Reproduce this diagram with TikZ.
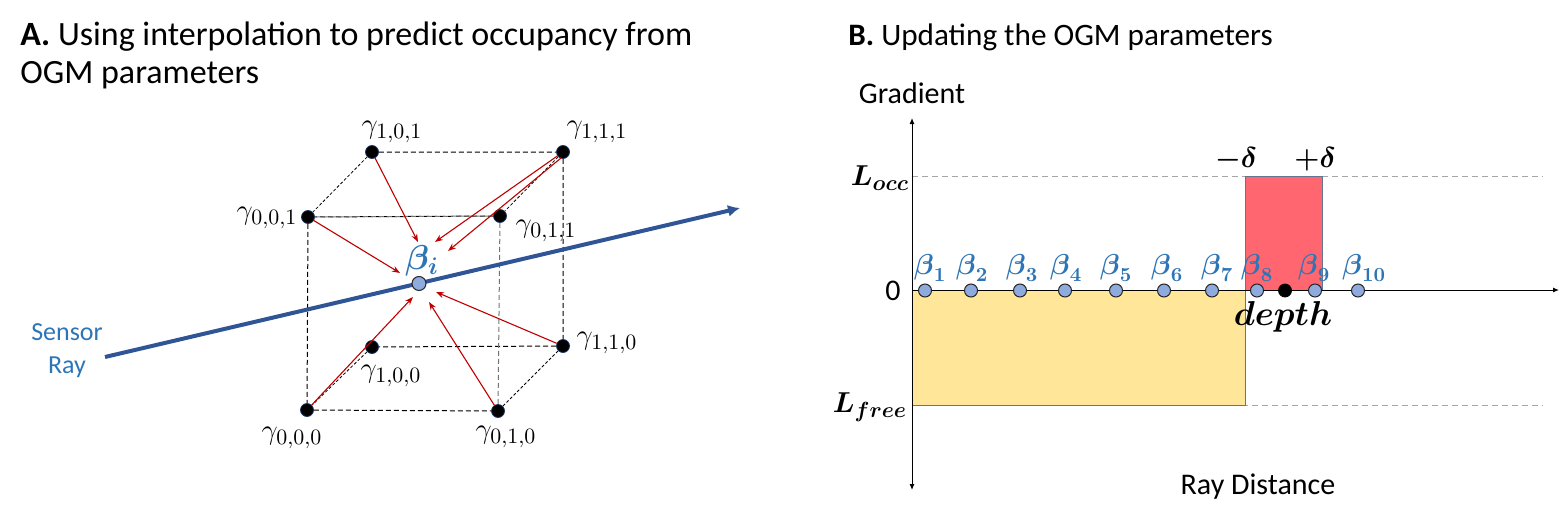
\documentclass[tikz,border=0pt]{standalone}
\usepackage{amsmath}
\usepackage{fontspec}
\setmainfont{Carlito}
\usetikzlibrary{arrows.meta,positioning}
\definecolor{raybl}{HTML}{2F5597}
\definecolor{labbl}{HTML}{2E75B6}
\definecolor{dotbl}{HTML}{8FAADC}
\definecolor{arred}{HTML}{C00000}
\definecolor{freeyl}{HTML}{FFE699}
\definecolor{occrd}{HTML}{FF6670}
\definecolor{edgebl}{HTML}{1F3864}
\tikzset{
  vtx/.style={circle,fill=black,draw=edgebl,line width=0.4pt,inner sep=0pt,minimum size=6.5pt},
  bdot/.style={circle,fill=dotbl,draw=black!85,line width=0.5pt,inner sep=0pt,minimum size=6.5pt},
  glab/.style={font=\fontsize{15.5}{17}\selectfont,inner sep=0pt},
  blab/.style={text=labbl,font=\fontsize{14}{16}\selectfont,inner sep=0pt},
  cube/.style={line width=0.5pt,dash pattern=on 2.5pt off 1.5pt},
  toward/.style={arred,line width=0.55pt,-{Stealth[length=4pt,width=3pt]}},
  level/.style={black!35,line width=0.5pt,dash pattern=on 3pt off 2pt},
  ttl/.style={anchor=base west,inner sep=0pt,font=\fontsize{17}{19}\selectfont},
}
\begin{document}
\begin{tikzpicture}[x=0.5pt,y=-0.5pt,font=\fontsize{15}{18}\selectfont]
    \useasboundingbox (0,0) rectangle (1568,514);
    % A: interpolation inside one voxel
    \node[ttl] (ttlA) at (20,46) {\textbf{A.} Using interpolation to predict occupancy from};
    \node[ttl] (ttlAb) at (20,83) {OGM parameters};
    \node[vtx] (g101) at (372,152) {};
    \node[vtx] (g111) at (563,152) {};
    \node[vtx] (g001) at (308,217) {};
    \node[vtx] (g011) at (500,216) {};
    \node[vtx] (g100) at (372,347) {};
    \node[vtx] (g110) at (563,346) {};
    \node[vtx] (g000) at (307,410) {};
    \node[vtx] (g010) at (498,411) {};
    \draw[cube] (g101) -- (g111) -- (g110) -- (g100) -- cycle;
    \draw[cube] (g011) -- (g001) -- (g000) -- (g010);
    \draw[cube,black!55] (g001) -- (g011) -- (g010);
    \draw[cube,dash pattern=on 1.5pt off 1pt,line width=0.4pt] (g101) -- (g001) (g111) -- (g011) (g110) -- (g010) (g100) -- (g000);
    \node[glab] (l101) at (392,132) {$\gamma_{1,0,1}$};
    \node[glab] (l111) at (597,132) {$\gamma_{1,1,1}$};
    \node[glab] (l001) at (267,218) {$\gamma_{0,0,1}$};
    \node[glab] (l011) at (546,231) {$\gamma_{0,1,1}$};
    \node[glab] (l100) at (391,376) {$\gamma_{1,0,0}$};
    \node[glab] (l110) at (607,343) {$\gamma_{1,1,0}$};
    \node[glab] (l000) at (292,438) {$\gamma_{0,0,0}$};
    \node[glab] (l010) at (506,437) {$\gamma_{0,1,0}$};
    % sensor ray
    \coordinate (rs) at (105,357);
    \coordinate (re) at (740,208);
    \draw[raybl,line width=2pt,-{Latex[length=6pt,width=6pt]}] (rs) -- (re);
    \node[text=labbl,align=center,font=\fontsize{13}{16.5}\selectfont] (sens) at (67,351) {Sensor\\Ray};
    \node[bdot,minimum size=7pt] (bi) at (419,283.5) {};
    \node[blab,font=\fontsize{17}{19}\selectfont] (lbi) at (422,261) {$\boldsymbol{\beta_i}$};
    % weights pulled into beta_i
    \coordinate (e1) at (418,242);
    \coordinate (e2) at (435,242);
    \coordinate (e3) at (448,251);
    \coordinate (e4) at (400,273);
    \coordinate (e5) at (413,297);
    \coordinate (e6) at (429,302);
    \coordinate (e7) at (436,292);
    \draw[toward] (g101) -- (e1);
    \draw[toward] (g111) -- (e2);
    \draw[toward] ([xshift=-1pt,yshift=-3pt]g111.center) -- (e3);
    \draw[toward] (g001) -- (e4);
    \draw[toward] (g000) -- (e5);
    \draw[toward] (g010) -- (e6);
    \draw[toward] (g110) -- (e7);

    % B: gradient along the ray
    \node[ttl,font=\fontsize{15.6}{19}\selectfont] (ttlB) at (848,46) {\textbf{B.} Updating the OGM parameters};
    \draw[level] (912,176) -- (1543,176);
    \draw[level] (912,405) -- (1543,405);
    \draw[fill=freeyl,draw=edgebl!70,line width=0.4pt] (912,290) rectangle (1245,405);
    \draw[fill=occrd,draw=edgebl!70,line width=0.4pt] (1245,176) rectangle (1322,290);
    \coordinate (ytop) at (912,118);
    \coordinate (ybot) at (912,490);
    \coordinate (xend) at (1559,290);
    \draw[line width=0.5pt,{Latex[length=3pt,width=2.5pt]}-{Latex[length=3pt,width=2.5pt]}] (ybot) -- (ytop);
    \draw[line width=0.5pt,-{Latex[length=3pt,width=2.5pt]}] (912,290) -- (xend);
    \node (grad) at (912,93) {Gradient};
    \node (rdist) at (1258,487) {Ray Distance};
    \node (zero) at (893,291) {0};
    \node[font=\fontsize{15}{17}\selectfont] (locc) at (880,178) {$\boldsymbol{L_{occ}}$};
    \node[font=\fontsize{15}{17}\selectfont] (lfree) at (870,407) {$\boldsymbol{L_{free}}$};
    \node[font=\fontsize{15}{17}\selectfont] (mdel) at (1236,159) {$\boldsymbol{-\delta}$};
    \node[font=\fontsize{15}{17}\selectfont] (pdel) at (1315,159) {$\boldsymbol{+\delta}$};
    \foreach \i/\x/\lx in {1/925/930,2/971/972,3/1020/1022,4/1065/1066,5/1116/1116,6/1164/1167,7/1212/1217,8/1257/1257,9/1315/1314,10/1358/1364}{
        \node[bdot] (b\i) at (\x,290.5) {};
        \node[blab] (lb\i) at (\lx,268) {$\boldsymbol{\beta}_{\boldsymbol{\i}}$};
    }
    \node[vtx,draw=black] (dep) at (1285,290.5) {};
    \node[font=\fontsize{16}{18}\selectfont] (ldep) at (1283,317) {$\boldsymbol{depth}$};
\end{tikzpicture}
\end{document}
